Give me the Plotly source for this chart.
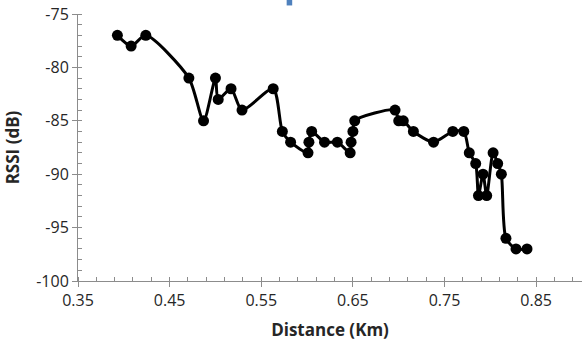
import plotly.graph_objects as go

# Measured received signal strength along the route
distance_km = [0.393, 0.408, 0.424, 0.471, 0.487, 0.500, 0.503, 0.517, 0.529,
               0.563, 0.573, 0.582, 0.601, 0.602, 0.605, 0.619, 0.633, 0.647,
               0.648, 0.650, 0.652, 0.696, 0.700, 0.705, 0.716, 0.738, 0.759,
               0.771, 0.777, 0.784, 0.787, 0.792, 0.796, 0.803, 0.808, 0.812,
               0.817, 0.828, 0.840]
rssi_db = [-77, -78, -77, -81, -85, -81, -83, -82, -84,
           -82, -86, -87, -88, -87, -86, -87, -87, -88,
           -87, -86, -85, -84, -85, -85, -86, -87, -86,
           -86, -88, -89, -92, -90, -92, -88, -89, -90,
           -96, -97, -97]

x_ticks = [0.35, 0.45, 0.55, 0.65, 0.75, 0.85]
y_ticks = [-100, -95, -90, -85, -80, -75]

FONT = "Open Sans"
AXIS_GREY = "#8c8c8c"

fig = go.Figure()
fig.add_trace(go.Scatter(
    x=distance_km, y=rssi_db,
    mode="lines+markers",
    line=dict(color="black", width=3, shape="spline", smoothing=0.7),
    marker=dict(color="black", size=11),
    showlegend=False,
))

axis_common = dict(
    showgrid=False, zeroline=False,
    showline=True, linecolor=AXIS_GREY, linewidth=1,
    ticks="outside", ticklen=5, tickcolor=AXIS_GREY, tickwidth=1,
    tickfont=dict(family=FONT, size=16, color="#262626"),
    ticklabeloverflow="allow",
)

fig.update_xaxes(
    range=[0.35, 0.9], tickmode="array", tickvals=x_ticks,
    ticktext=[f"{v:.2f}" for v in x_ticks],
    minor=dict(ticks="inside", ticklen=4, tickcolor=AXIS_GREY, dtick=0.02, tick0=0.35),
    title=dict(text="<b>Distance (Km)</b>", font=dict(family=FONT, size=17, color="#262626"), standoff=13),
    **axis_common,
)
fig.update_yaxes(
    range=[-100, -75], tickmode="array", tickvals=y_ticks,
    ticktext=[str(v) for v in y_ticks],
    minor=dict(ticks="inside", ticklen=4, tickcolor=AXIS_GREY, dtick=1, tick0=-100),
    title=dict(text="<b>RSSI (dB)</b>", font=dict(family=FONT, size=17, color="#262626"), standoff=12),
    **axis_common,
)

# small blue marker block above the plot area
fig.add_shape(type="rect", xref="paper", yref="paper",
              x0=0.414, x1=0.425, y0=1.032, y1=1.06,
              fillcolor="#4f81bd", line=dict(width=0), layer="above")

fig.update_layout(
    width=585, height=347,
    margin=dict(l=78, r=3, t=10, b=66),
    plot_bgcolor="white", paper_bgcolor="white",
)

fig.write_html("out.html")
